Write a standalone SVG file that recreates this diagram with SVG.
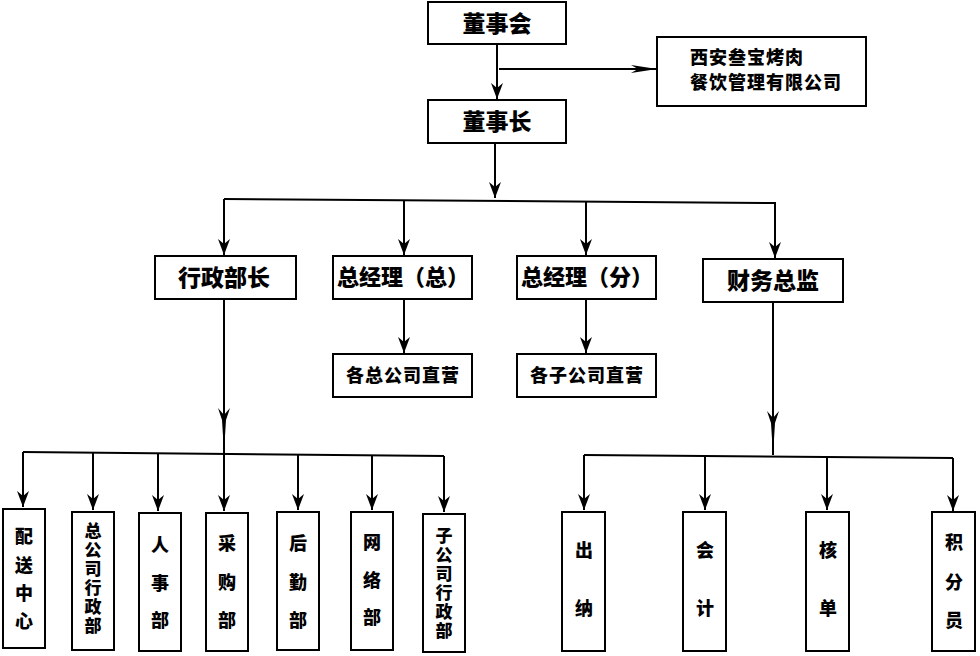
<svg xmlns="http://www.w3.org/2000/svg" width="980" height="656" viewBox="0 0 980 656">
<style>
rect{fill:#fff;stroke:#000;stroke-width:2}
text{font-family:"Noto Sans CJK SC","Noto Sans",sans-serif;font-weight:900;fill:#000;text-anchor:middle}
.c line,.c path{stroke:#000;stroke-width:2;fill:none}
.t23{font-size:23px}
.t22{font-size:22px}
.t18{font-size:18px}
.v{font-size:17px;writing-mode:vertical-rl;text-orientation:upright;letter-spacing:2px;text-anchor:start}
</style>
<defs>
<marker id="a" markerUnits="userSpaceOnUse" viewBox="0 0 16 12" refX="16" refY="6" markerWidth="16" markerHeight="12" orient="auto"><path d="M0,0 L16,6 L0,12 L5,6 z" fill="#000"/></marker>
<marker id="aL" markerUnits="userSpaceOnUse" viewBox="0 0 44 12" refX="44" refY="6" markerWidth="44" markerHeight="12" orient="auto"><path d="M0,0 L12,4 L44,6 L12,8 L0,12 L7,6 z" fill="#000"/></marker>
<marker id="aO" markerUnits="userSpaceOnUse" viewBox="0 0 26 8" refX="26" refY="4" markerWidth="26" markerHeight="8" orient="auto"><path d="M0,0 L26,4 L0,8 L7,4 z" fill="#000"/></marker>
</defs>
<g id="connectors" class="c">
<line x1="497" y1="44" x2="497" y2="99" marker-end="url(#a)"/>
<line x1="499" y1="69" x2="657" y2="69" marker-end="url(#aO)" stroke-width="1.5"/>
<line x1="495" y1="143" x2="495" y2="198" marker-end="url(#a)"/>
<line x1="224" y1="199" x2="776" y2="203"/>
<line x1="224" y1="199" x2="224" y2="255" marker-end="url(#a)"/>
<line x1="404" y1="200" x2="404" y2="255" marker-end="url(#a)"/>
<line x1="586" y1="201" x2="586" y2="255" marker-end="url(#a)"/>
<line x1="775" y1="203" x2="775" y2="258" marker-end="url(#a)"/>
<line x1="404" y1="299" x2="404" y2="353" marker-end="url(#a)"/>
<line x1="586" y1="299" x2="586" y2="353" marker-end="url(#a)"/>
<line x1="224" y1="299" x2="224" y2="452" marker-end="url(#aL)"/>
<line x1="773" y1="302" x2="773" y2="455" marker-end="url(#aL)"/>
<line x1="23" y1="452" x2="444" y2="456"/>
<line x1="23" y1="452" x2="23" y2="507" marker-end="url(#a)"/>
<line x1="93" y1="453" x2="93" y2="510" marker-end="url(#a)"/>
<line x1="158" y1="453" x2="158" y2="511" marker-end="url(#a)"/>
<line x1="224" y1="452" x2="224" y2="511" marker-end="url(#a)"/>
<line x1="298" y1="454" x2="298" y2="510" marker-end="url(#a)"/>
<line x1="372" y1="455" x2="372" y2="510" marker-end="url(#a)"/>
<line x1="444" y1="456" x2="444" y2="512" marker-end="url(#a)"/>
<line x1="584" y1="455" x2="953" y2="458"/>
<line x1="584" y1="455" x2="584" y2="510" marker-end="url(#a)"/>
<line x1="705" y1="456" x2="705" y2="510" marker-end="url(#a)"/>
<line x1="827" y1="457" x2="827" y2="510" marker-end="url(#a)"/>
<line x1="953" y1="458" x2="953" y2="511" marker-end="url(#a)"/>
</g>
<g id="n-dongshihui"><rect x="428" y="2" width="138" height="42"/><text class="t23" x="497" y="32">董事会</text></g>
<g id="n-company"><rect x="657" y="37" width="209" height="69"/><text class="t18" x="690" y="64" style="text-anchor:start;letter-spacing:1px">西安叁宝烤肉</text><text class="t18" x="690" y="89" style="text-anchor:start;letter-spacing:1px">餐饮管理有限公司</text></g>
<g id="n-dongshizhang"><rect x="428" y="100" width="138" height="43"/><text class="t23" x="497" y="130">董事长</text></g>
<g id="n-xingzheng"><rect x="155" y="256" width="141" height="43"/><text class="t23" x="224" y="286">行政部长</text></g>
<g id="n-zjl-zong"><rect x="333" y="256" width="139" height="43"/><text class="t22" x="403" y="285">总经理（总）</text></g>
<g id="n-zjl-fen"><rect x="517" y="256" width="139" height="43"/><text class="t22" x="587" y="285">总经理（分）</text></g>
<g id="n-caiwu"><rect x="703" y="259" width="140" height="43"/><text class="t23" x="773" y="289">财务总监</text></g>
<g id="n-zhiying-zong"><rect x="333" y="354" width="139" height="43"/><text class="t18" x="403" y="382" style="letter-spacing:1px">各总公司直营</text></g>
<g id="n-zhiying-zi"><rect x="517" y="354" width="139" height="43"/><text class="t18" x="587" y="382" style="letter-spacing:1px">各子公司直营</text></g>
<g id="n-peisong"><rect x="3" y="509" width="42" height="139"/><text class="t18"><tspan x="24" y="543">配</tspan><tspan x="24" y="572">送</tspan><tspan x="24" y="600">中</tspan><tspan x="24" y="628">心</tspan></text></g>
<g id="n-zonggongsi"><rect x="72" y="512" width="42" height="138"/><text class="v" x="93" y="522">总公司行政部</text></g>
<g id="n-renshi"><rect x="139" y="513" width="42" height="138"/><text class="t18"><tspan x="160" y="552">人</tspan><tspan x="160" y="590">事</tspan><tspan x="160" y="627">部</tspan></text></g>
<g id="n-caigou"><rect x="206" y="513" width="42" height="138"/><text class="t18"><tspan x="227" y="550">采</tspan><tspan x="227" y="589">购</tspan><tspan x="227" y="627">部</tspan></text></g>
<g id="n-houqin"><rect x="277" y="512" width="42" height="138"/><text class="t18"><tspan x="298" y="550">后</tspan><tspan x="298" y="589">勤</tspan><tspan x="298" y="627">部</tspan></text></g>
<g id="n-wangluo"><rect x="351" y="512" width="42" height="138"/><text class="t18"><tspan x="372" y="549">网</tspan><tspan x="372" y="587">络</tspan><tspan x="372" y="624">部</tspan></text></g>
<g id="n-zigongsi"><rect x="423" y="514" width="42" height="138"/><text class="v" x="444" y="527">子公司行政部</text></g>
<g id="n-chuna"><rect x="562" y="512" width="43" height="139"/><text class="t18"><tspan x="584" y="557">出</tspan><tspan x="584" y="615">纳</tspan></text></g>
<g id="n-kuaiji"><rect x="683" y="512" width="43" height="139"/><text class="t18"><tspan x="705" y="557">会</tspan><tspan x="705" y="615">计</tspan></text></g>
<g id="n-hedan"><rect x="806" y="512" width="43" height="139"/><text class="t18"><tspan x="828" y="557">核</tspan><tspan x="828" y="615">单</tspan></text></g>
<g id="n-jifen"><rect x="932" y="512" width="43" height="139"/><text class="t18"><tspan x="954" y="549">积</tspan><tspan x="954" y="589">分</tspan><tspan x="954" y="627">员</tspan></text></g>
</svg>
